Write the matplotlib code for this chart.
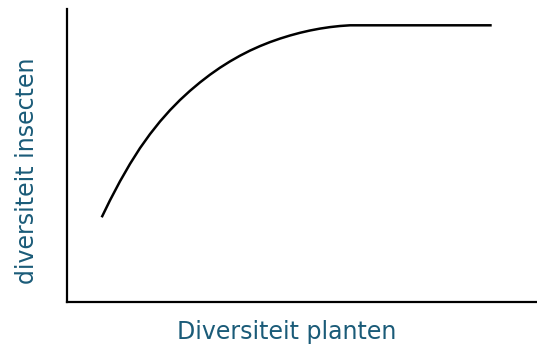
import matplotlib
matplotlib.use("Agg")
import matplotlib.pyplot as plt

# curve (arbitrary units)
plant_div = [34.7, 43, 53, 63, 73, 83, 93, 103, 113, 123, 133, 143, 153, 163,
             173, 183, 193, 203, 213, 223, 233, 243, 253, 263, 273, 283, 424.7]
insect_div = [84.2, 101.2, 120.2, 137.6, 153.4, 167.4, 180.0, 191.3, 201.5, 210.7,
              219.1, 226.8, 233.8, 240.1, 245.8, 250.9, 255.4, 259.4, 262.9, 266.0,
              268.7, 271.0, 272.9, 274.4, 275.5, 276.2, 276.2]

x_label = "Diversiteit planten"
y_label = "diversiteit insecten"
label_color = "#1a5b78"

fig = plt.figure(figsize=(5.37, 3.52), dpi=100)
ax = fig.add_axes([67 / 537, 50.5 / 352, 470 / 537, 292.5 / 352])

ax.plot(plant_div, insect_div, color="black", lw=1.8,
        solid_capstyle="butt", solid_joinstyle="round")

ax.set_xlim(0, 470)
ax.set_ylim(0, 292.5)
ax.set_xticks([])
ax.set_yticks([])
for side in ["top", "right"]:
    ax.spines[side].set_visible(False)
for side in ["left", "bottom"]:
    ax.spines[side].set_linewidth(1.6)
    ax.spines[side].set_color("black")

fig.text(287 / 537, 1 - 332 / 352, x_label, color=label_color, fontsize=17,
         ha="center", va="center")
fig.text(27 / 537, 1 - 171 / 352, y_label, color=label_color, fontsize=17,
         ha="center", va="center", rotation=90)

fig.savefig("out.png", dpi=100)
